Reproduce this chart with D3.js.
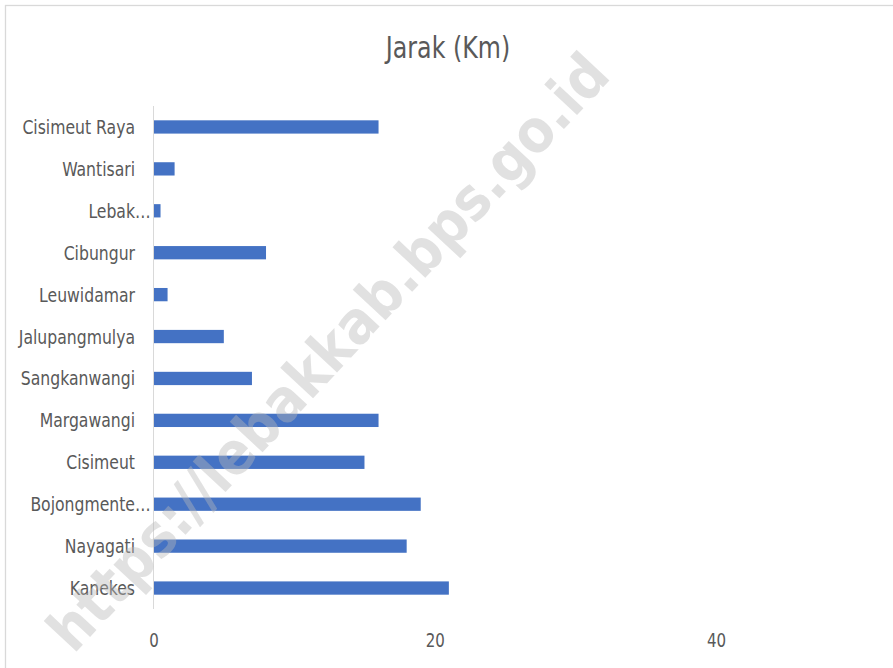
<!DOCTYPE html>
<html>
<head>
<meta charset="utf-8">
<script src="https://cdn.jsdelivr.net/npm/d3@7"></script>
<style>
  html, body { margin: 0; padding: 0; background: #fff; }
  svg { display: block; }
  text { font-family: "DejaVu Sans Condensed", "Liberation Sans Narrow", "Liberation Sans", sans-serif; }
</style>
</head>
<body>
<svg id="chart" width="893" height="668"></svg>
<script>
// Data (top to bottom as displayed)
const categories = ["Cisimeut Raya", "Wantisari", "Lebak…", "Cibungur", "Leuwidamar", "Jalupangmulya",
                    "Sangkanwangi", "Margawangi", "Cisimeut", "Bojongmente…", "Nayagati", "Kanekes"];
const values = [16, 1.5, 0.5, 8, 1, 5, 7, 16, 15, 19, 18, 21];
const xTicks = [0, 20, 40];
const title = "Jarak (Km)";
const watermark = "https://lebakkab.bps.go.id";

const svg = d3.select("#chart");
const SX = 0.88; // horizontal condensing to mimic the narrow chart font

// chart border (cropped on right/bottom)
svg.append("rect")
  .attr("x", 5.5).attr("y", 5.5)
  .attr("width", 1000).attr("height", 1000)
  .attr("fill", "#fff")
  .attr("stroke", "#d9d9d9").attr("stroke-width", 1.3);

const plotLeft = 153.5, plotTop = 106, plotBottom = 609;
const x = d3.scaleLinear().domain([0, 60]).range([plotLeft, plotLeft + 3 * 281.3]);
const gapRatio = 0.683;
const y = d3.scaleBand().domain(categories).range([plotTop, plotBottom])
  .paddingInner(gapRatio).paddingOuter(gapRatio / 2);

// title
svg.append("text")
  .attr("transform", `translate(448,58) scale(${SX},1)`)
  .attr("text-anchor", "middle")
  .attr("font-size", 30)
  .attr("fill", "#595959")
  .text(title);

// bars
svg.append("g").selectAll("rect")
  .data(categories.map((c, i) => ({ c, v: values[i] })))
  .join("rect")
  .attr("x", x(0))
  .attr("y", d => y(d.c))
  .attr("width", d => x(d.v) - x(0))
  .attr("height", y.bandwidth())
  .attr("fill", "#4472C4");

// vertical category axis line
svg.append("line")
  .attr("x1", plotLeft).attr("x2", plotLeft)
  .attr("y1", plotTop).attr("y2", plotBottom)
  .attr("stroke", "#d9d9d9").attr("stroke-width", 1);

// category labels
const labelRight = 135;
const FS = 20, LSX = 0.87;
const tmp = svg.append("text").attr("font-size", FS).text("…");
const ellW = tmp.node().getComputedTextLength() * LSX;
tmp.remove();
svg.append("g").selectAll("text")
  .data(categories)
  .join("text")
  .attr("transform", d => `translate(${d.endsWith("…") ? labelRight + ellW : labelRight},${y(d) + y.bandwidth() / 2 + 7}) scale(${LSX},1)`)
  .attr("text-anchor", "end")
  .attr("font-size", FS)
  .attr("fill", "#595959")
  .text(d => d);

// x axis tick labels
const xAxis = d3.axisBottom(x).tickValues(xTicks).tickSize(0).tickPadding(0).tickFormat(d3.format("d"));
const gx = svg.append("g").attr("transform", "translate(0,647)").call(xAxis);
gx.select(".domain").remove();
gx.selectAll("text")
  .attr("dy", 0).attr("y", 0)
  .attr("transform", `scale(${SX},1)`)
  .attr("x", 0)
  .attr("font-size", 19)
  .attr("font-family", "\"DejaVu Sans Condensed\", sans-serif")
  .attr("fill", "#595959");

// watermark
const wm = svg.append("text")
  .attr("font-family", "\"Liberation Sans\", Arial, sans-serif")
  .attr("font-weight", "bold")
  .attr("font-size", 56)
  .attr("fill", "#b8b8b8")
  .attr("fill-opacity", 0.42)
  .attr("text-anchor", "middle")
  .attr("dominant-baseline", "central")
  .attr("transform", "translate(328,352) rotate(-47)")
  .text(watermark);
const wmLen = wm.node().getComputedTextLength();
wm.attr("font-size", 56 * 790 / wmLen);
</script>
</body>
</html>
